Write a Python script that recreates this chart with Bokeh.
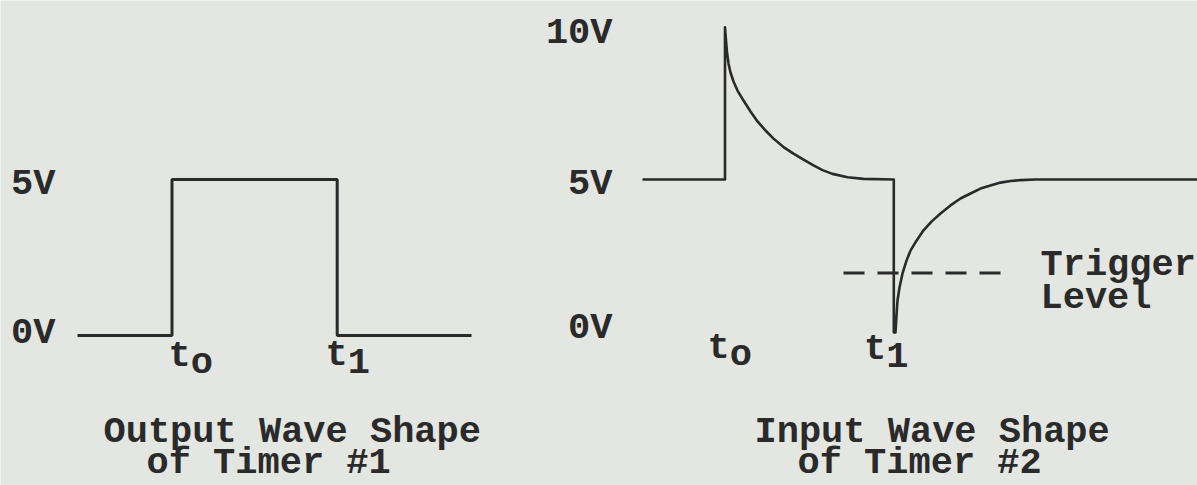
from bokeh.plotting import figure
from bokeh.models import Range1d
from bokeh.core.properties import value
from bokeh.embed import file_html
from bokeh.resources import INLINE

# ---- data (time in arbitrary units, voltage in volts) ----
# Output wave shape of Timer #1 (square pulse 0V -> 5V between t0 and t1)
out_t = [6.9, 16.35, 16.35, 32.87, 32.87, 46.3]
out_v = [0, 0, 5, 5, 0, 0]

# Input wave shape of Timer #2 (spike to ~10V at t0, dip to ~0V at t1)
in_t = [63.4, 71.65, 71.65, 71.75, 71.85, 72.0, 72.2, 72.5, 72.9, 73.5, 74.2,
        74.9, 75.7, 76.5, 77.5, 78.5, 79.5, 80.5, 81.4, 82.4, 83.9, 85.5,
        88.53, 88.53, 88.7, 88.8, 88.9, 89.1, 89.4, 89.8, 90.2, 90.8, 91.5,
        92.3, 93.2, 94.2, 95.2, 96.2, 97.2, 98.2, 99.2, 100.2, 101.2, 102.7,
        104.2, 120.0]
in_v = [5.0, 5.0, 9.88, 9.46, 9.07, 8.72, 8.43, 8.14, 7.85, 7.53, 7.18,
        6.86, 6.57, 6.31, 6.04, 5.83, 5.64, 5.45, 5.30, 5.18, 5.07, 5.02,
        5.0, 0.1, 0.1, 0.64, 1.12, 1.54, 1.99, 2.40, 2.72, 3.04, 3.37,
        3.65, 3.91, 4.17, 4.39, 4.55, 4.71, 4.81, 4.90, 4.95, 4.98, 5.0,
        5.0, 5.0]

# Trigger level
trig_t = [83.5, 100.0]
trig_v = [2.0, 2.0]

# Texts
left_volt_labels = ["5V", "0V"]
right_volt_labels = ["10V", "5V", "0V"]
time_labels = ["t", "t", "t", "t"]
time_subs = ["o", "1", "o", "1"]
caption_left = ["Output Wave Shape", "of Timer #1"]
caption_right = ["Input Wave Shape", "of Timer #2"]
trigger_text = ["Trigger", "Level"]

# ---- label positions (layout, not data) ----
left_volt_x = [4.7, 4.7]
left_volt_y = [4.84, 0.09]
right_volt_x = [60.4, 60.4, 60.4]
right_volt_y = [9.70, 4.84, 0.25]
tl_x = [16.0, 31.7, 69.9, 85.55]
tl_y = [-0.67, -0.61, -0.39, -0.42]
sub_dy = 0.22
char_w = 2.22
cap_left_x = [9.5, 13.8]
cap_right_x = [74.6, 78.9]
cap_y = [-3.10, -4.08]
trig_x = [103.2, 103.2]
trig_y = [2.27, 1.21]

PAPER = "#e4e6e2"
INK = "#2a2a2a"
FONT = value("Liberation Mono")
FS = "37px"

p = figure(width=1197, height=485, output_backend="svg", toolbar_location=None,
           x_axis_location=None, y_axis_location=None,
           x_range=Range1d(-0.8, 118.9), y_range=Range1d(-4.808, 10.737),
           min_border=0, background_fill_color=PAPER, border_fill_color=PAPER)
p.outline_line_color = None
p.xgrid.grid_line_color = None
p.ygrid.grid_line_color = None

p.line(out_t, out_v, line_color=INK, line_width=3)
p.line(in_t, in_v, line_color=INK, line_width=2.6, line_join="round")
p.line(trig_t, trig_v, line_color=INK, line_width=3, line_dash="21 13")

def txt(xs, ys, texts, align="left"):
    p.text(x=xs, y=ys, text=texts, text_font=FONT, text_font_size=FS,
           text_font_style="bold", text_color=INK, text_align=align,
           text_baseline="alphabetic")

txt(left_volt_x, left_volt_y, left_volt_labels, "right")
txt(right_volt_x, right_volt_y, right_volt_labels, "right")
txt(tl_x, tl_y, time_labels)
txt([x + char_w for x in tl_x], [y - sub_dy for y in tl_y], time_subs)
txt(cap_left_x, cap_y, caption_left)
txt(cap_right_x, cap_y, caption_right)
txt(trig_x, trig_y, trigger_text)

html = file_html(p, INLINE)
html = html.replace("<body>", '<body style="background-color:%s;">' % PAPER, 1)
open("out.html", "w").write(html)
